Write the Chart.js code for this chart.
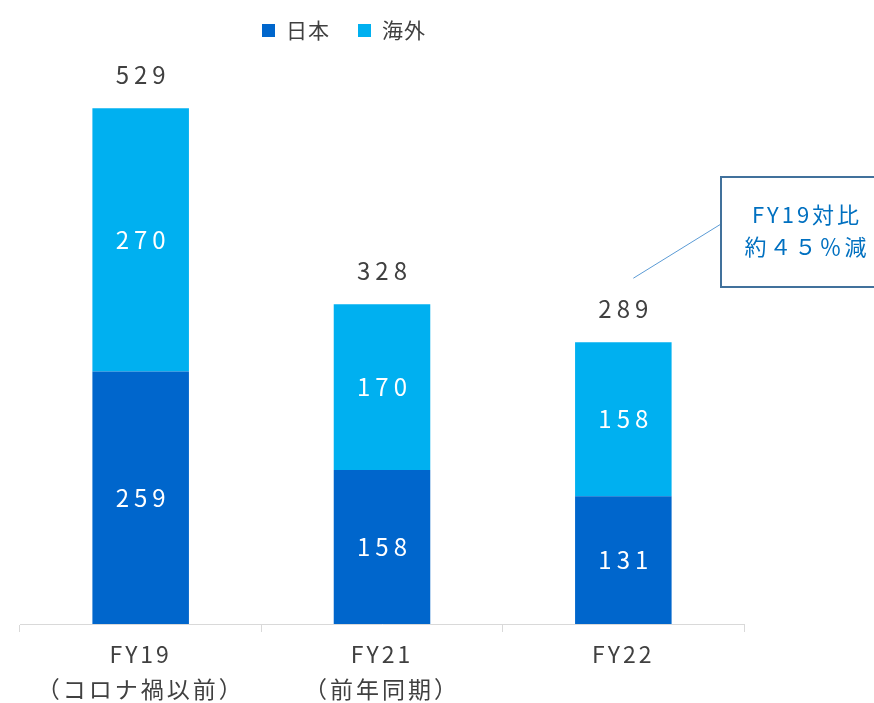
<!DOCTYPE html>
<html lang="ja">
<head>
  <meta charset="UTF-8" />
  <title>日本・海外 積み上げ</title>
  <script src="https://cdn.jsdelivr.net/npm/chart.js@4"></script>
  <style>
    body { margin: 0; background: #fff; }
    #wrap { width: 874px; height: 703px; }
  </style>
</head>
<body>
  <div id="wrap"><canvas id="c"></canvas></div>

  <script>
    const categories = [["FY19", "（コロナ禍以前）"], ["FY21", "（前年同期）"], ["FY22"]];
    const japan = [259, 158, 131];
    const overseas = [270, 170, 158];
    const totals = [529, 328, 289];
    const seriesNames = ["日本", "海外"];
    const calloutText = ["FY19対比", "約４５％減"];

    const FONT = "'Noto Sans CJK JP', 'Noto Sans', sans-serif";
    const DARK = "#0066CC";
    const LIGHT = "#00B0F0";

    // wide letter spacing like the original rounded font
    const spacingPlugin = {
      id: "spacing",
      beforeDraw(chart) { chart.ctx.letterSpacing = "3px"; }
    };

    const labelsPlugin = {
      id: "labels",
      afterDatasetsDraw(chart) {
        const ctx = chart.ctx;
        ctx.save();
        ctx.textAlign = "center";
        ctx.textBaseline = "middle";
        ctx.font = "24px " + FONT;
        ctx.letterSpacing = "5px";
        ctx.fillStyle = "#fff";
        chart.data.datasets.forEach((ds, i) => {
          chart.getDatasetMeta(i).data.forEach((bar, j) => {
            ctx.fillText(ds.data[j], bar.x + 2.5, (bar.y + bar.base) / 2);
          });
        });
        // totals above stacks
        ctx.fillStyle = "#404040";
        const top = chart.getDatasetMeta(1).data;
        totals.forEach((t, j) => ctx.fillText(t, top[j].x + 2.5, top[j].y - 33));

        // legend
        ctx.letterSpacing = "1px";
        ctx.textAlign = "left";
        ctx.font = "21px " + FONT;
        let x = 262;
        seriesNames.forEach((n, i) => {
          ctx.fillStyle = i === 0 ? DARK : LIGHT;
          ctx.fillRect(x, 24, 13, 13);
          ctx.fillStyle = "#404040";
          ctx.fillText(n, x + 24, 30);
          x += 24 + ctx.measureText(n).width + 28;
        });

        // callout
        const ax = top[2].x + 10, ay = top[2].y - 64;
        ctx.strokeStyle = "#5B9BD5";
        ctx.lineWidth = 1;
        ctx.beginPath();
        ctx.moveTo(ax, ay);
        ctx.lineTo(721, 224);
        ctx.stroke();
        ctx.strokeStyle = "#41719C";
        ctx.lineWidth = 2;
        ctx.fillStyle = "#fff";
        ctx.fillRect(721, 177, 160, 110);
        ctx.strokeRect(721, 177, 160, 110);
        ctx.fillStyle = "#0070C0";
        ctx.textAlign = "center";
        ctx.font = "22px " + FONT;
        ctx.letterSpacing = "3px";
        ctx.fillText(calloutText[0], 807, 215);
        ctx.fillText(calloutText[1], 807, 247);
        ctx.restore();
      }
    };

    new Chart(document.getElementById("c"), {
      type: "bar",
      data: {
        labels: categories,
        datasets: [
          { label: seriesNames[0], data: japan, backgroundColor: DARK },
          { label: seriesNames[1], data: overseas, backgroundColor: LIGHT }
        ]
      },
      options: {
        responsive: true,
        maintainAspectRatio: false,
        animation: false,
        layout: { padding: { left: 20, right: 130, top: 39, bottom: 0 } },
        datasets: { bar: { categoryPercentage: 1, barPercentage: 0.4 } },
        plugins: { legend: { display: false }, tooltip: { enabled: false } },
        scales: {
          x: {
            stacked: true,
            afterFit: s => { s.height = 79; },
            border: { color: "#D9D9D9", width: 1 },
            grid: { offset: true, drawOnChartArea: false, color: "#D9D9D9", tickLength: 8 },
            ticks: { color: "#404040", padding: 4, font: { family: FONT, size: 23, lineHeight: 1.55 } }
          },
          y: {
            stacked: true,
            display: false,
            min: 0,
            max: 600
          }
        }
      },
      plugins: [spacingPlugin, labelsPlugin]
    });
  </script>
</body>
</html>
